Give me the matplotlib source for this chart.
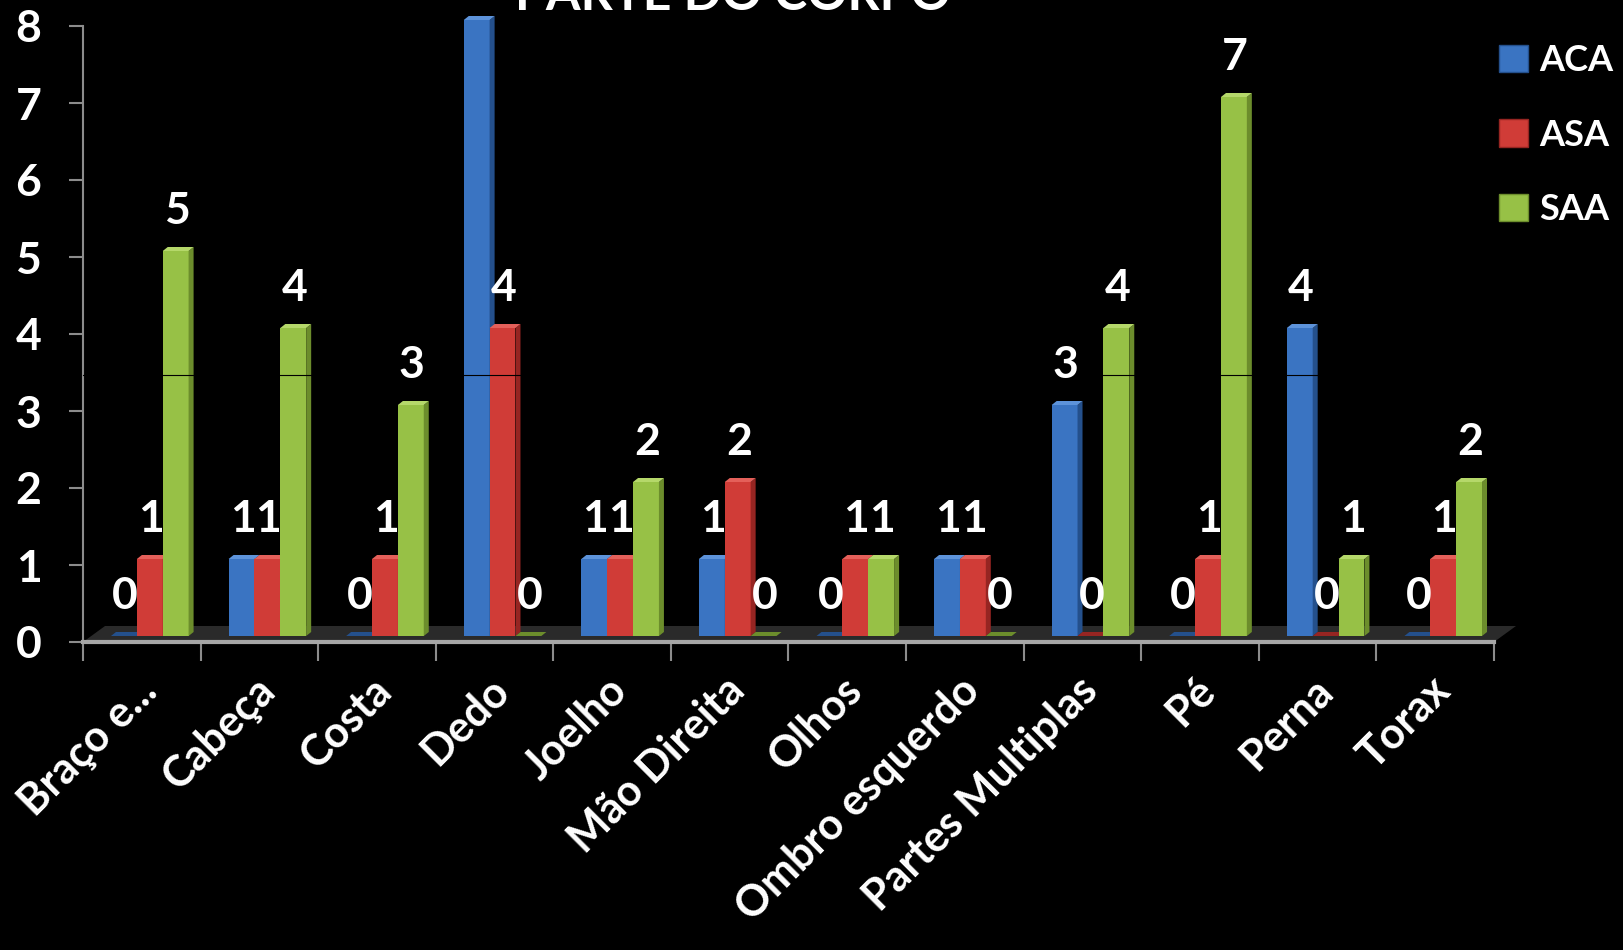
import numpy as np
import matplotlib
matplotlib.use("Agg")
import matplotlib.pyplot as plt
import matplotlib.transforms as mtransforms
from matplotlib.patches import Patch, Polygon

#data
categories = ["Braço e...", "Cabeça", "Costa", "Dedo", "Joelho", "Mão Direita",
              "Olhos", "Ombro esquerdo", "Partes Multiplas", "Pé", "Perna", "Torax"]
series = ["ACA", "ASA", "SAA"]
aca = [0, 1, 0, 8, 1, 1, 0, 1, 3, 0, 4, 0]
asa = [1, 1, 1, 4, 1, 2, 1, 1, 0, 1, 0, 1]
saa = [5, 4, 3, 0, 2, 0, 1, 0, 4, 7, 1, 2]
yticks = [0, 1, 2, 3, 4, 5, 6, 7, 8]

#colours: front, side, top
front = ["#3a74c2", "#d03c37", "#97c146"]
side = ["#24508c", "#962522", "#6c8d2c"]
top = ["#5d93da", "#e4605a", "#b5d86a"]

plt.rcParams["font.family"] = ["Lato", "DejaVu Sans"]
plt.rcParams["font.weight"] = "bold"

W, H = 1624, 950
fig = plt.figure(figsize=(W / 100, H / 100), dpi=100, facecolor="black")
ax = fig.add_axes([83 / W, 1 - 642 / H, (1494 - 83) / W, (642 - 26) / H])
ax.set_facecolor("black")
ax.set_xlim(-0.5, len(categories) - 0.5)
ax.set_ylim(0, 8)

#pixel -> data scale for the fake depth
px_x = 1 / ((1494 - 83) / len(categories))
px_y = 1 / ((642 - 26) / 8)

#floor
fdx, fdy = 22 * px_x, 16 * px_y
ax.add_patch(Polygon([(-0.5, 0), (11.5, 0), (11.5 + fdx, fdy), (-0.5 + fdx, fdy)],
                     closed=True, facecolor="#2a2a2a", edgecolor="none",
                     clip_on=False, zorder=1))

bars_tr = mtransforms.offset_copy(ax.transData, fig=fig, x=8, y=6, units="dots")
lbl_tr = mtransforms.offset_copy(ax.transData, fig=fig, x=9, y=46, units="dots")

x = np.arange(len(categories))
w = 0.22
sx, sy = 5 * px_x, 4 * px_y
for k, vals in enumerate([aca, asa, saa]):
    xs = x + (k - 1) * w
    ax.bar(xs, vals, w, color=front[k], transform=bars_tr, zorder=3 + k,
           clip_on=False, linewidth=0)
    for xi, v in zip(xs, vals):
        l, r = xi - w / 2, xi + w / 2
        ax.add_patch(Polygon([(r, 0), (r + sx, sy), (r + sx, v + sy), (r, v)],
                             closed=True, facecolor=side[k], edgecolor="none",
                             transform=bars_tr, zorder=3 + k, clip_on=False))
        ax.add_patch(Polygon([(l, v), (r, v), (r + sx, v + sy), (l + sx, v + sy)],
                             closed=True, facecolor=top[k] if v > 0 else side[k],
                             edgecolor="none", transform=bars_tr, zorder=3 + k,
                             clip_on=False))
        ax.text(xi, v, str(v), transform=lbl_tr, color="white", fontsize=32,
                fontweight="bold", ha="center", va="center", zorder=10)

#thin dark seam across the tall bars
ax.axhline(3.47, color="black", linewidth=0.8, zorder=8)

#axes styling
for s in ["top", "right"]:
    ax.spines[s].set_visible(False)
ax.spines["left"].set_color("#8c8c8c")
ax.spines["bottom"].set_color("#a6a6a6")
ax.spines["left"].set_linewidth(1.5)
ax.spines["bottom"].set_linewidth(3)
ax.set_yticks(yticks)
ax.tick_params(axis="y", colors="#8c8c8c", length=10, width=1.5, pad=20,
               labelcolor="white", labelsize=32)
for t in ax.get_yticklabels():
    t.set_fontweight("bold")

ax.set_xticks(x)
ax.set_xticklabels(categories, rotation=45, ha="right", rotation_mode="anchor",
                   fontsize=31, fontweight="bold", color="white")
ax.tick_params(axis="x", length=0, pad=20)
ax.set_xticks(np.arange(-0.5, len(categories)), minor=True)
ax.tick_params(axis="x", which="minor", length=14, width=1.5, color="#8c8c8c")
shift = mtransforms.ScaledTranslation(-6 / 100, 0, fig.dpi_scale_trans)
for t in ax.get_xticklabels():
    t.set_transform(t.get_transform() + shift)

#title, cut off at the top
fig.text(733 / W, 1 - 10 / H, "PARTE DO CORPO", color="white", fontsize=36,
         fontweight="bold", ha="center", va="baseline")

#legend
handles = [Patch(facecolor=front[i], edgecolor=side[i], label=series[i]) for i in range(3)]
leg = fig.legend(handles=handles, loc="upper left", bbox_to_anchor=(1499 / W, 1 - 44 / H),
                 frameon=False, fontsize=26, handlelength=0.8, handleheight=0.8,
                 handletextpad=0.3, labelspacing=1.15, borderaxespad=0, borderpad=0)
for t in leg.get_texts():
    t.set_color("white")
    t.set_fontweight("bold")

fig.savefig("out.png", dpi=100, facecolor="black")
